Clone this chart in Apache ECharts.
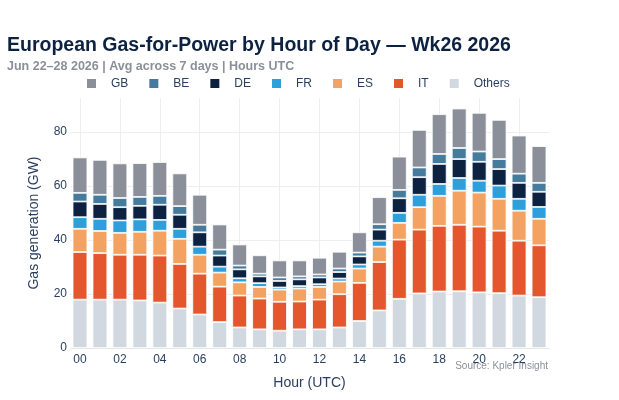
<!DOCTYPE html>
<html>
<head>
    <meta charset="utf-8">
    <title>European Gas-for-Power by Hour of Day</title>
    <script src="https://cdn.jsdelivr.net/npm/echarts@6/dist/echarts.min.js"></script>
    <style>
        body { margin: 0; background: #fff; }
    </style>
</head>
<body>
    <div id="main" style="width: 619px;height:400px;"></div>

    <script type="text/javascript">
        // hours 00..23
        var hours = ['00', '01', '02', '03', '04', '05', '06', '07', '08', '09', '10', '11',
                     '12', '13', '14', '15', '16', '17', '18', '19', '20', '21', '22', '23']

        // GW per country
        var others = [17.9, 17.9, 17.9, 17.6, 16.8, 14.6, 12.4, 9.6, 7.6, 6.9, 6.4, 6.9,
                      6.9, 7.6, 10.0, 13.9, 18.2, 20.2, 20.9, 21.0, 20.6, 20.3, 19.4, 18.8]
        var it = [17.6, 17.2, 16.6, 16.9, 17.4, 16.5, 15.1, 13.1, 11.8, 11.4, 10.7, 10.3,
                  11.0, 12.3, 14.1, 17.9, 21.9, 23.6, 24.3, 24.6, 24.3, 23.1, 20.3, 19.2]
        var es = [8.6, 8.2, 8.1, 8.5, 9.2, 9.3, 7.0, 5.2, 4.9, 4.3, 4.5, 4.8,
                  4.7, 4.7, 5.3, 5.7, 6.2, 8.3, 11.1, 12.6, 12.6, 11.8, 11.1, 9.8]
        var fr = [4.3, 4.5, 4.6, 4.6, 4.0, 3.7, 3.0, 2.2, 1.5, 1.4, 0.8, 0.9,
                  1.0, 1.1, 1.5, 2.2, 3.7, 4.6, 4.4, 4.7, 4.4, 4.9, 4.4, 4.4]
        var de = [5.8, 5.5, 4.9, 5.0, 5.6, 5.2, 5.3, 4.1, 3.3, 2.5, 2.4, 2.5,
                  2.5, 2.4, 3.0, 4.1, 5.4, 6.5, 7.4, 7.0, 7.0, 6.1, 5.9, 5.6]
        var be = [3.2, 3.4, 3.4, 3.3, 3.3, 3.2, 2.8, 2.2, 1.4, 1.0, 1.3, 1.1,
                  1.1, 1.3, 1.4, 2.0, 3.1, 3.6, 3.7, 4.1, 3.8, 3.7, 3.4, 3.3]
        var gb = [13.1, 12.9, 12.8, 12.5, 12.5, 12.1, 11.1, 9.3, 7.8, 6.8, 6.3, 5.9,
                  6.2, 6.2, 7.5, 10.0, 12.3, 13.9, 14.7, 14.6, 14.3, 14.5, 14.1, 13.6]

        var yTicks = [0, 20, 40, 60, 80]
        // vertical grid lines sit on the labelled (even) hours
        var gridHours = [0, 2, 4, 6, 8, 10, 12, 14, 16, 18, 20, 22]

        var colors = {
            GB: '#8a8f99',
            BE: '#457b9d',
            DE: '#0d2240',
            FR: '#2e9fdb',
            ES: '#f4a261',
            IT: '#e4572e',
            Others: '#d1d8e0'
        }

        var font = 'Liberation Sans, Arial, sans-serif'

        var barSeries = function(name, values) {
            return {
                name: name,
                type: 'bar',
                stack: 'total',
                xAxisIndex: 0,
                barCategoryGap: '26%',
                z: 3,
                itemStyle: {
                    color: colors[name],
                    borderColor: '#ffffff',
                    borderWidth: 0.8
                },
                data: values
            }
        }

        var myChart = echarts.init(document.getElementById('main'))

        var option = {
            animation: false,
            backgroundColor: '#ffffff',
            textStyle: { fontFamily: font },
            title: [{
                text: 'European Gas-for-Power by Hour of Day \u2014 Wk26 2026',
                left: 7,
                top: 36,
                padding: 0,
                textStyle: { fontSize: 19.5, fontWeight: 'bold', color: '#0d2240', fontFamily: font }
            }, {
                text: 'Jun 22\u201328 2026 | Avg across 7 days | Hours UTC',
                left: 7,
                top: 60,
                padding: 0,
                textStyle: { fontSize: 12.5, fontWeight: 'bold', color: '#8a8f99', fontFamily: font }
            }],
            legend: {
                data: ['GB', 'BE', 'DE', 'FR', 'ES', 'IT', 'Others'],
                left: 85,
                top: 77,
                padding: 0,
                icon: 'rect',
                itemWidth: 11,
                itemHeight: 11,
                itemGap: 19,
                textStyle: { fontSize: 12, color: '#2a3f5f', padding: [0, 0, 0, 9] }
            },
            grid: {
                left: 70,
                right: 70,
                top: 98,
                bottom: 52
            },
            xAxis: [{
                type: 'category',
                data: hours,
                name: 'Hour (UTC)',
                nameLocation: 'middle',
                nameGap: 28,
                nameTextStyle: { fontSize: 14, color: '#2a3f5f' },
                axisLine: { lineStyle: { color: '#e6e6e6' } },
                axisTick: { show: false },
                axisLabel: {
                    interval: 1,
                    fontSize: 12,
                    color: '#2a3f5f',
                    margin: 6
                },
                splitLine: { show: false }
            }, {
                // helper axis for the vertical grid, bar i centred at value i
                type: 'value',
                position: 'bottom',
                min: -0.5,
                max: 23.5,
                axisLine: { show: false },
                axisLabel: { show: false },
                axisTick: { show: false, customValues: gridHours },
                splitLine: {
                    show: true,
                    lineStyle: { color: '#eeeeee' }
                }
            }],
            yAxis: {
                type: 'value',
                min: 0,
                max: 92.5,
                name: 'Gas generation (GW)',
                nameLocation: 'middle',
                nameGap: 29,
                nameTextStyle: { fontSize: 14, color: '#2a3f5f' },
                axisLine: { show: false },
                axisTick: { show: false, customValues: yTicks },
                axisLabel: {
                    fontSize: 12,
                    color: '#2a3f5f',
                    margin: 3,
                    customValues: yTicks
                },
                splitLine: {
                    lineStyle: { color: '#eeeeee' }
                }
            },
            graphic: [{
                type: 'text',
                right: 71,
                top: 361,
                style: {
                    text: 'Source: Kpler Insight',
                    fontSize: 10,
                    fill: '#8a8f99',
                    fontFamily: font
                }
            }],
            series: [
                barSeries('Others', others),
                barSeries('IT', it),
                barSeries('ES', es),
                barSeries('FR', fr),
                barSeries('DE', de),
                barSeries('BE', be),
                barSeries('GB', gb)
            ]
        }

        myChart.setOption(option)
    </script>
</body>
</html>
